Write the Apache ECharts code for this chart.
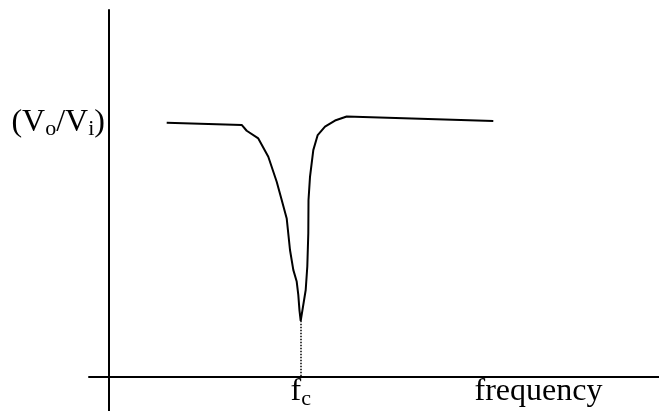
<!DOCTYPE html>
<html>
<head>
    <meta charset="UTF-8">
    <title>notch response</title>
    <script src="https://cdn.jsdelivr.net/npm/echarts@6/dist/echarts.min.js"></script>
    <style>
        html, body { margin:0; padding:0; background:#fff; }
        #chart { width:659px; height:411px; }
    </style>
</head>
<body>
<div id="chart"></div>
<script>
    // frequency (arbitrary units) and gain (Vo/Vi, passband = 1)
    var freq = [5.77, 13.27, 13.77, 14.93, 15.93, 16.77, 17.27, 17.77, 18.1, 18.43, 18.77, 18.93, 19.05, 19.17,
                19.67, 19.83, 19.93, 19.95, 20.1, 20.43, 20.87, 21.6, 22.6, 23.77, 38.43];
    var gain = [0.997, 0.989, 0.966, 0.936, 0.864, 0.766, 0.694, 0.622, 0.498, 0.420, 0.374, 0.322, 0.26, 0.22,
                0.341, 0.433, 0.564, 0.694, 0.785, 0.890, 0.949, 0.982, 1.006, 1.022, 1.004];
    var fc = 19.17;
    var fcGain = 0.22;
    var freqLabelPos = 42.95;

    var pts = [];
    for (var i = 0; i < freq.length; i++) {
        pts.push([freq[i], gain[i]]);
    }

    var serif = "'Liberation Serif', 'Times New Roman', serif";
    // main text + subscript (pushed down with top padding)
    var richText = {
        m: { fontSize: 32, lineHeight: 32, fontFamily: serif, color: '#000', verticalAlign: 'top' },
        s: { fontSize: 22, lineHeight: 22, fontFamily: serif, color: '#000', verticalAlign: 'top', padding: [12, 0, 0, 0] }
    };

    var myChart = echarts.init(document.getElementById('chart'));

    var option = {
        animation: false,
        grid: { left: 89, right: 0, top: 10, bottom: 0, containLabel: false, outerBoundsMode: 'none' },
        xAxis: {
            type: 'value',
            min: -2,
            max: 55,
            axisLine: { onZero: true, lineStyle: { color: '#000', width: 2 } },
            axisTick: { show: false },
            splitLine: { show: false },
            axisLabel: {
                customValues: [fc, freqLabelPos],
                margin: -35,   // labels sit at grid edge, pull them up under the zero line
                formatter: function (v) {
                    if (Math.abs(v - fc) < 0.01) return '{m|f}{s|c}';
                    return '{m|frequency}';
                },
                rich: richText
            }
        },
        yAxis: {
            type: 'value',
            min: -0.134,
            max: 1.44,
            axisLine: { onZero: true, lineStyle: { color: '#000', width: 2 } },
            axisTick: { show: false },
            splitLine: { show: false },
            axisLabel: {
                customValues: [1],
                margin: -16,
                formatter: function () { return '{m|(V}{s|o}{m|/V}{s|i}{m|)}'; },
                rich: richText
            }
        },
        series: [{
            type: 'line',
            data: pts,
            symbol: 'none',
            lineStyle: { color: '#000', width: 2 },
            markLine: {
                silent: true,
                symbol: 'none',
                label: { show: false },
                lineStyle: { color: '#000', width: 1.5, type: 'dotted' },
                data: [[{ coord: [fc, fcGain] }, { coord: [fc, 0] }]]
            }
        }]
    };

    myChart.setOption(option);
</script>
</body>
</html>
